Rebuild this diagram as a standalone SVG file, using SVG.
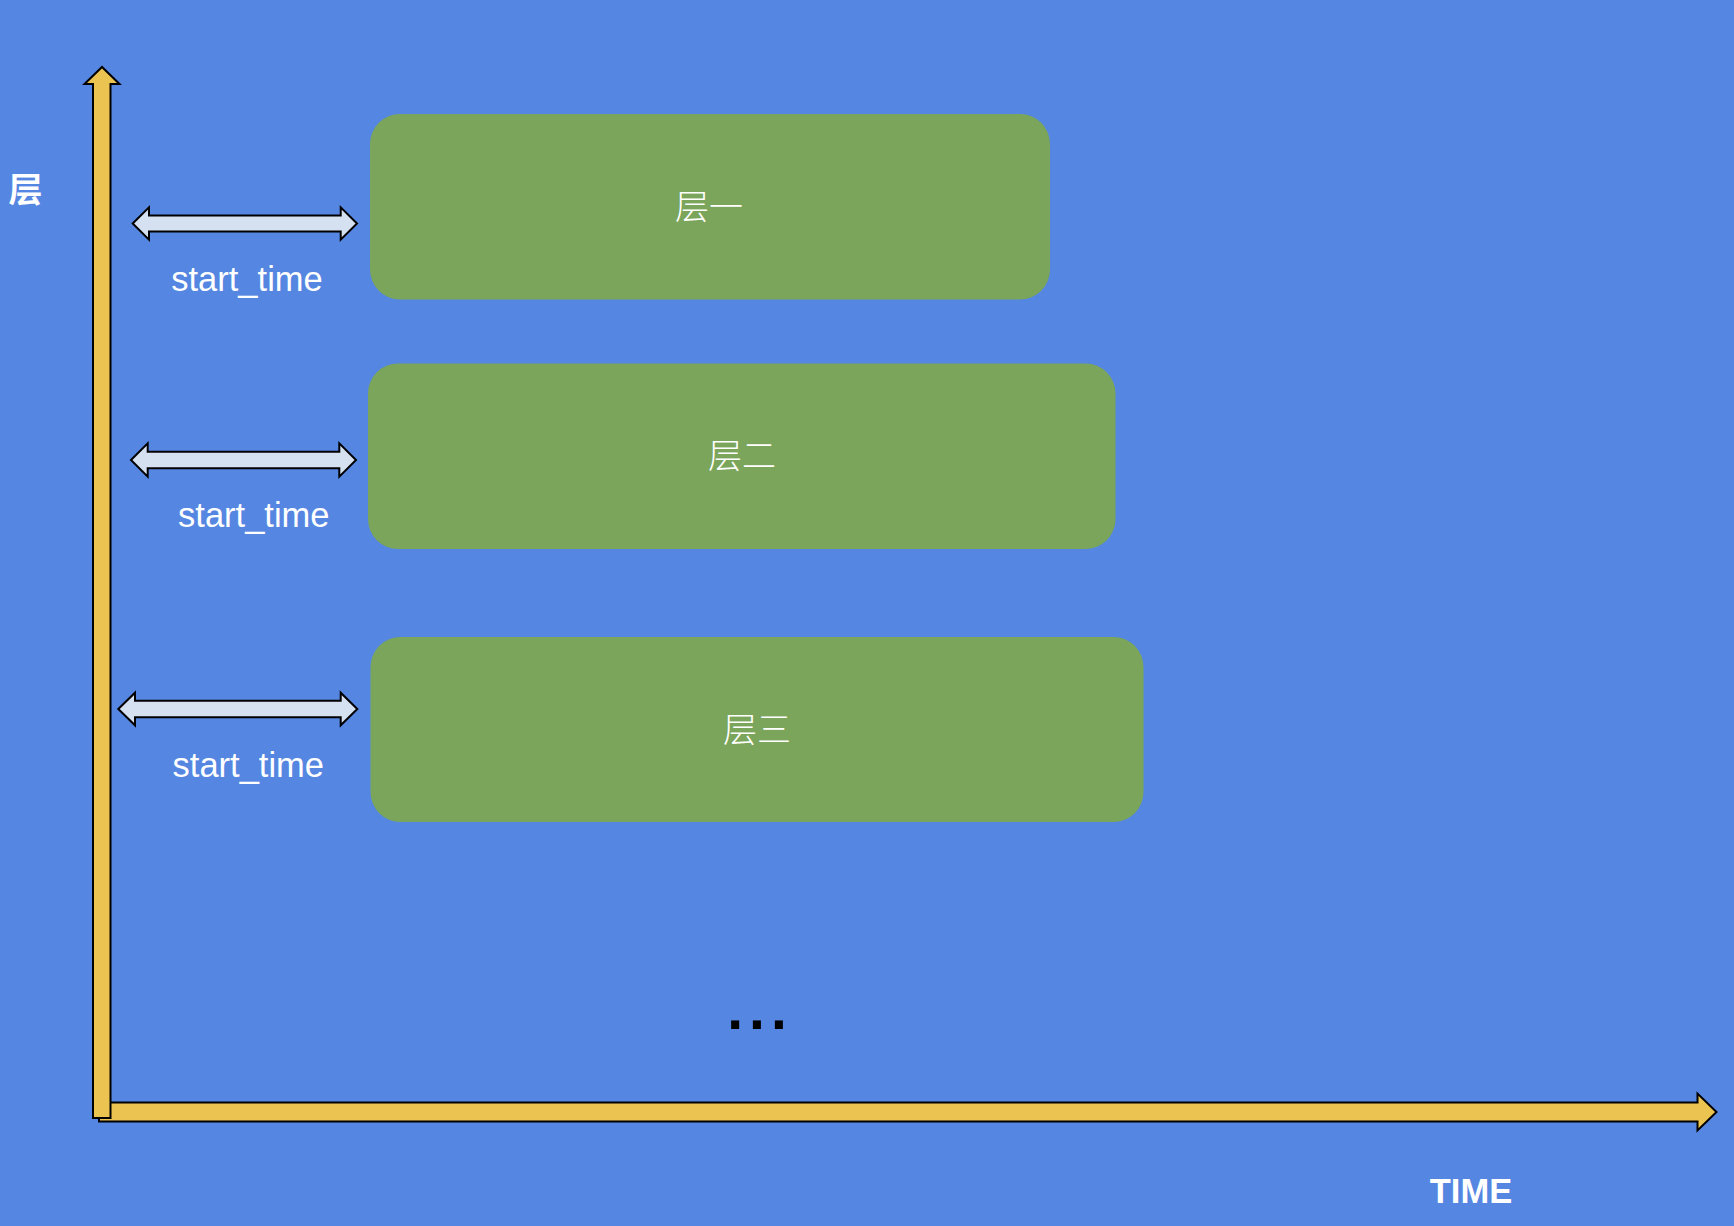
<svg xmlns="http://www.w3.org/2000/svg" width="1734" height="1226" viewBox="0 0 1734 1226">
<style>
.bg{fill:#5586E1}
.box{fill:#7AA55B}
.axis{fill:#EBC351;stroke:#000;stroke-width:2;stroke-linejoin:miter}
.darr{fill:#D5E1F1;stroke:#000;stroke-width:2;stroke-linejoin:miter}
.lbl{fill:#fff;font-family:"Liberation Sans",Arial,sans-serif;font-size:34.5px;text-anchor:middle}
.cjk{fill:#fff;font-family:"Noto Sans CJK SC","Liberation Sans",sans-serif;font-size:34px;text-anchor:middle;font-weight:300}
.bold{font-weight:bold}
</style>
<rect class="bg" x="0" y="0" width="1734" height="1226"/>
<g id="connectors">
  <polygon id="x-axis" class="axis" points="99,1102.5 1697.5,1102.5 1697.5,1093.5 1716.5,1112 1697.5,1130.5 1697.5,1121.5 99,1121.5"/>
  <polygon id="y-axis" class="axis" points="93,1118 93,84 84.5,84 102,67 119.5,84 110.5,84 110.5,1118"/>
  <polygon id="arrow1" class="darr" points="132.7,223.5 149,207.3 149,215.5 340.7,215.5 340.7,207.3 357,223.5 340.7,239.7 340.7,231.5 149,231.5 149,239.7"/>
  <polygon id="arrow2" class="darr" points="131,460 147.7,443.3 147.7,451.7 339.3,451.7 339.3,443.3 356,460 339.3,476.7 339.3,468.3 147.7,468.3 147.7,476.7"/>
  <polygon id="arrow3" class="darr" points="118.3,709 135,692.7 135,700.8 340.7,700.8 340.7,692.7 357.3,709 340.7,725.3 340.7,717.2 135,717.2 135,725.3"/>
</g>
<g id="layer1">
  <rect class="box" x="370" y="114" width="680" height="185.5" rx="30" ry="30"/>
  <text class="cjk" x="709" y="219">层一</text>
</g>
<g id="layer2">
  <rect class="box" x="368" y="363.5" width="747.5" height="185.5" rx="30" ry="30"/>
  <text class="cjk" x="742" y="468">层二</text>
</g>
<g id="layer3">
  <rect class="box" x="370.5" y="637" width="773" height="185" rx="30" ry="30"/>
  <text class="cjk" x="757" y="742">层三</text>
</g>
<g id="labels">
  <text class="lbl" x="247" y="290.7">start_time</text>
  <text class="lbl" x="253.8" y="526.7">start_time</text>
  <text class="lbl" x="248.3" y="776.7">start_time</text>
  <text class="cjk bold" x="25.5" y="202" style="font-weight:bold">层</text>
  <text class="lbl bold" x="1471" y="1203.3">TIME</text>
  <text x="760" y="1029" style="fill:#000;font-family:'Liberation Sans',Arial,sans-serif;font-size:57px;font-weight:bold;text-anchor:middle;letter-spacing:6px">...</text>
</g>
</svg>
